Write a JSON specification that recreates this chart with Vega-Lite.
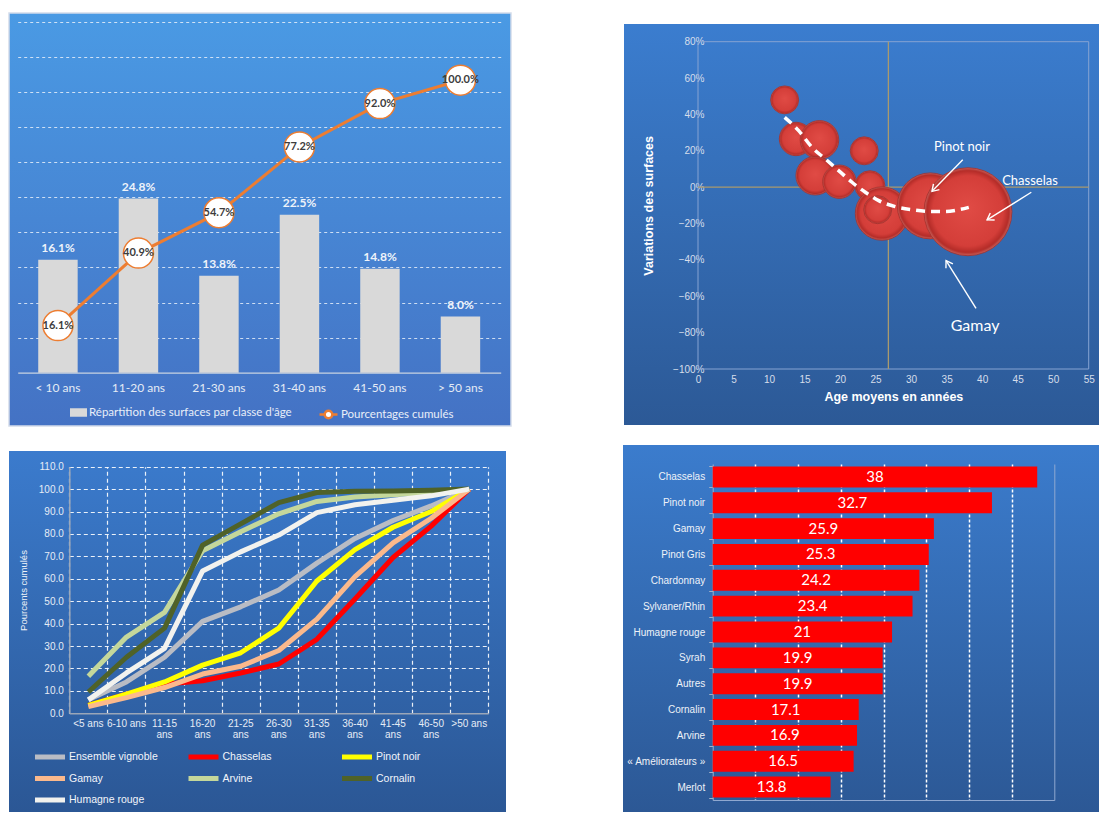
{
  "$schema": "https://vega.github.io/schema/vega-lite/v6.json",
  "background": "white",
  "padding": {"left": 8, "top": 12, "right": 0, "bottom": 0},
  "spacing": 13,
  "config": {"view": {"stroke": null}, "font": "Liberation Sans"},
  "resolve": {"scale": {"color": "independent", "stroke": "independent", "size": "independent"}, "legend": {"color": "independent", "stroke": "independent"}},
  "datasets": {
    "classes": [
      {"classe": "< 10 ans", "part": 0.161, "cumul": 0.161},
      {"classe": "11-20 ans", "part": 0.248, "cumul": 0.409},
      {"classe": "21-30 ans", "part": 0.138, "cumul": 0.547},
      {"classe": "31-40 ans", "part": 0.225, "cumul": 0.772},
      {"classe": "41-50 ans", "part": 0.148, "cumul": 0.92},
      {"classe": "> 50 ans", "part": 0.08, "cumul": 1.0}
    ],
    "bulles": [
      {"age": 12.2, "variation": 0.48, "surface": 196},
      {"age": 13.8, "variation": 0.265, "surface": 279},
      {"age": 17.1, "variation": 0.26, "surface": 372},
      {"age": 23.4, "variation": 0.2, "surface": 196},
      {"age": 16.5, "variation": 0.063, "surface": 372},
      {"age": 19.9, "variation": 0.03, "surface": 279},
      {"age": 24.2, "variation": 0.008, "surface": 225},
      {"age": 25.9, "variation": -0.145, "surface": 713},
      {"age": 25.3, "variation": -0.124, "surface": 196},
      {"age": 32.7, "variation": -0.103, "surface": 1089},
      {"age": 38.0, "variation": -0.135, "surface": 1936}
    ],
    "tendance": [
      {"age": 12.2, "variation": 0.384},
      {"age": 14.17, "variation": 0.311},
      {"age": 16.05, "variation": 0.219},
      {"age": 17.93, "variation": 0.155},
      {"age": 19.8, "variation": 0.091},
      {"age": 21.68, "variation": 0.027},
      {"age": 23.56, "variation": -0.028},
      {"age": 25.44, "variation": -0.074},
      {"age": 27.78, "variation": -0.107},
      {"age": 30.13, "variation": -0.124},
      {"age": 32.48, "variation": -0.133},
      {"age": 34.83, "variation": -0.134},
      {"age": 36.71, "variation": -0.124},
      {"age": 38.12, "variation": -0.111}
    ],
    "fleches": [
      {"cible": "Pinot noir", "age": 37.27, "variation": 0.151, "age_fin": 32.94, "variation_fin": -0.023},
      {"cible": "Chasselas", "age": 46.92, "variation": -0.028, "age_fin": 40.69, "variation_fin": -0.18},
      {"cible": "Gamay", "age": 39.14, "variation": -0.666, "age_fin": 34.92, "variation_fin": -0.404}
    ],
    "cadre": [
      {"age": 0, "age_fin": 55, "variation": -1, "variation_fin": 0.8}
    ],
    "courbes": [
      {"classe": "<5 ans", "serie": "Ensemble vignoble", "cumul": 6},
      {"classe": "6-10 ans", "serie": "Ensemble vignoble", "cumul": 14},
      {"classe": "11-15 ans", "serie": "Ensemble vignoble", "cumul": 25},
      {"classe": "16-20 ans", "serie": "Ensemble vignoble", "cumul": 41},
      {"classe": "21-25 ans", "serie": "Ensemble vignoble", "cumul": 47.5},
      {"classe": "26-30 ans", "serie": "Ensemble vignoble", "cumul": 55},
      {"classe": "31-35 ans", "serie": "Ensemble vignoble", "cumul": 67},
      {"classe": "36-40 ans", "serie": "Ensemble vignoble", "cumul": 78},
      {"classe": "41-45 ans", "serie": "Ensemble vignoble", "cumul": 86},
      {"classe": "46-50 ans", "serie": "Ensemble vignoble", "cumul": 92.5},
      {"classe": ">50 ans", "serie": "Ensemble vignoble", "cumul": 100},
      {"classe": "<5 ans", "serie": "Chasselas", "cumul": 3.5},
      {"classe": "6-10 ans", "serie": "Chasselas", "cumul": 8.5},
      {"classe": "11-15 ans", "serie": "Chasselas", "cumul": 13},
      {"classe": "16-20 ans", "serie": "Chasselas", "cumul": 14.5},
      {"classe": "21-25 ans", "serie": "Chasselas", "cumul": 18},
      {"classe": "26-30 ans", "serie": "Chasselas", "cumul": 22},
      {"classe": "31-35 ans", "serie": "Chasselas", "cumul": 33},
      {"classe": "36-40 ans", "serie": "Chasselas", "cumul": 51},
      {"classe": "41-45 ans", "serie": "Chasselas", "cumul": 69.5},
      {"classe": "46-50 ans", "serie": "Chasselas", "cumul": 83.5},
      {"classe": ">50 ans", "serie": "Chasselas", "cumul": 100},
      {"classe": "<5 ans", "serie": "Pinot noir", "cumul": 3.5},
      {"classe": "6-10 ans", "serie": "Pinot noir", "cumul": 8.5},
      {"classe": "11-15 ans", "serie": "Pinot noir", "cumul": 14},
      {"classe": "16-20 ans", "serie": "Pinot noir", "cumul": 21.5},
      {"classe": "21-25 ans", "serie": "Pinot noir", "cumul": 27},
      {"classe": "26-30 ans", "serie": "Pinot noir", "cumul": 38},
      {"classe": "31-35 ans", "serie": "Pinot noir", "cumul": 59},
      {"classe": "36-40 ans", "serie": "Pinot noir", "cumul": 73},
      {"classe": "41-45 ans", "serie": "Pinot noir", "cumul": 83},
      {"classe": "46-50 ans", "serie": "Pinot noir", "cumul": 90},
      {"classe": ">50 ans", "serie": "Pinot noir", "cumul": 100},
      {"classe": "<5 ans", "serie": "Gamay", "cumul": 3},
      {"classe": "6-10 ans", "serie": "Gamay", "cumul": 7},
      {"classe": "11-15 ans", "serie": "Gamay", "cumul": 11.5},
      {"classe": "16-20 ans", "serie": "Gamay", "cumul": 17.5},
      {"classe": "21-25 ans", "serie": "Gamay", "cumul": 21},
      {"classe": "26-30 ans", "serie": "Gamay", "cumul": 28},
      {"classe": "31-35 ans", "serie": "Gamay", "cumul": 42},
      {"classe": "36-40 ans", "serie": "Gamay", "cumul": 61},
      {"classe": "41-45 ans", "serie": "Gamay", "cumul": 76},
      {"classe": "46-50 ans", "serie": "Gamay", "cumul": 87},
      {"classe": ">50 ans", "serie": "Gamay", "cumul": 100},
      {"classe": "<5 ans", "serie": "Arvine", "cumul": 16.5},
      {"classe": "6-10 ans", "serie": "Arvine", "cumul": 34},
      {"classe": "11-15 ans", "serie": "Arvine", "cumul": 45},
      {"classe": "16-20 ans", "serie": "Arvine", "cumul": 72.5},
      {"classe": "21-25 ans", "serie": "Arvine", "cumul": 81},
      {"classe": "26-30 ans", "serie": "Arvine", "cumul": 89},
      {"classe": "31-35 ans", "serie": "Arvine", "cumul": 94.5},
      {"classe": "36-40 ans", "serie": "Arvine", "cumul": 96.5},
      {"classe": "41-45 ans", "serie": "Arvine", "cumul": 97.5},
      {"classe": "46-50 ans", "serie": "Arvine", "cumul": 98.5},
      {"classe": ">50 ans", "serie": "Arvine", "cumul": 100},
      {"classe": "<5 ans", "serie": "Cornalin", "cumul": 9.5},
      {"classe": "6-10 ans", "serie": "Cornalin", "cumul": 25},
      {"classe": "11-15 ans", "serie": "Cornalin", "cumul": 38},
      {"classe": "16-20 ans", "serie": "Cornalin", "cumul": 75},
      {"classe": "21-25 ans", "serie": "Cornalin", "cumul": 84.5},
      {"classe": "26-30 ans", "serie": "Cornalin", "cumul": 94},
      {"classe": "31-35 ans", "serie": "Cornalin", "cumul": 98.5},
      {"classe": "36-40 ans", "serie": "Cornalin", "cumul": 99},
      {"classe": "41-45 ans", "serie": "Cornalin", "cumul": 99.2},
      {"classe": "46-50 ans", "serie": "Cornalin", "cumul": 99.5},
      {"classe": ">50 ans", "serie": "Cornalin", "cumul": 100},
      {"classe": "<5 ans", "serie": "Humagne rouge", "cumul": 6},
      {"classe": "6-10 ans", "serie": "Humagne rouge", "cumul": 18},
      {"classe": "11-15 ans", "serie": "Humagne rouge", "cumul": 29},
      {"classe": "16-20 ans", "serie": "Humagne rouge", "cumul": 63.5},
      {"classe": "21-25 ans", "serie": "Humagne rouge", "cumul": 72},
      {"classe": "26-30 ans", "serie": "Humagne rouge", "cumul": 79.5},
      {"classe": "31-35 ans", "serie": "Humagne rouge", "cumul": 89.5},
      {"classe": "36-40 ans", "serie": "Humagne rouge", "cumul": 93},
      {"classe": "41-45 ans", "serie": "Humagne rouge", "cumul": 95},
      {"classe": "46-50 ans", "serie": "Humagne rouge", "cumul": 97},
      {"classe": ">50 ans", "serie": "Humagne rouge", "cumul": 100}
    ],
    "ages_moyens": [
      {"cepage": "Chasselas", "age": 38},
      {"cepage": "Pinot noir", "age": 32.7},
      {"cepage": "Gamay", "age": 25.9},
      {"cepage": "Pinot Gris", "age": 25.3},
      {"cepage": "Chardonnay", "age": 24.2},
      {"cepage": "Sylvaner/Rhin", "age": 23.4},
      {"cepage": "Humagne rouge", "age": 21},
      {"cepage": "Syrah", "age": 19.9},
      {"cepage": "Autres", "age": 19.9},
      {"cepage": "Cornalin", "age": 17.1},
      {"cepage": "Arvine", "age": 16.9},
      {"cepage": "« Améliorateurs »", "age": 16.5},
      {"cepage": "Merlot", "age": 13.8}
    ]
  },
  "vconcat": [
    {
      "spacing": 112,
      "resolve": {"scale": {"color": "independent", "stroke": "independent", "size": "independent"}},
      "hconcat": [
        {
          "width": 502,
          "height": 413,
          "view": {
            "fill": {"gradient": "linear", "x1": 0, "y1": 0, "x2": 0, "y2": 1,
              "stops": [{"offset": 0, "color": "#4a9ae4"}, {"offset": 1, "color": "#4472c4"}]},
            "stroke": "#d3dcea",
            "strokeWidth": 1.5
          },
          "data": {"name": "classes"},
          "layer": [
            {
              "layer": [
                {
                  "mark": {"type": "bar", "color": "#d9d9d9"},
                  "encoding": {
                    "x": {
                      "field": "classe", "type": "nominal", "sort": null,
                      "scale": {"range": [8.7, 491.7], "paddingInner": 0.51, "paddingOuter": 0.255},
                      "axis": {"title": null, "orient": "bottom", "offset": -53.3, "labelAngle": 0, "ticks": false,
                        "domainColor": "#c9d3e2", "domainWidth": 1.2, "labelPadding": 10,
                        "labelFont": "Lato", "labelFontSize": 12, "labelColor": "#e4ebf5"}
                    },
                    "y": {
                      "field": "part", "type": "quantitative",
                      "scale": {"domain": [0, 0.5], "range": [359.7, 8.7], "nice": false},
                      "axis": {"title": null, "orient": "left", "values": [0.05, 0.1, 0.15, 0.2, 0.25, 0.3, 0.35, 0.4, 0.45, 0.5],
                        "labels": false, "ticks": false, "domain": false, "grid": true,
                        "gridDash": [3, 3], "gridColor": "#e6eef9", "gridWidth": 1, "gridOpacity": 0.85}
                    },
                    "fill": {
                      "datum": "Répartition des surfaces par classe d'âge",
                      "scale": {"range": ["#d9d9d9"]},
                      "legend": {"title": null, "orient": "none", "legendX": 61, "legendY": 391, "padding": 0,
                        "symbolType": "M-1,-0.5L1,-0.5L1,0.5L-1,0.5Z", "symbolSize": 289, "symbolStrokeWidth": 0,
                        "labelFont": "Lato", "labelFontSize": 11.5, "labelColor": "#e8eef8", "labelOffset": 2, "labelLimit": 400}
                    }
                  }
                },
                {
                  "mark": {"type": "text", "baseline": "bottom", "dy": -5, "font": "Lato", "fontSize": 12, "fontWeight": "bold", "color": "#eef3fa"},
                  "encoding": {
                    "x": {"field": "classe", "type": "nominal", "sort": null,
                      "scale": {"range": [8.7, 491.7], "paddingInner": 0.51, "paddingOuter": 0.255}},
                    "y": {"field": "part", "type": "quantitative",
                      "scale": {"domain": [0, 0.5], "range": [359.7, 8.7], "nice": false}},
                    "text": {"field": "part", "type": "quantitative", "format": ".1%"}
                  }
                }
              ]
            },
            {
              "layer": [
                {
                  "mark": {"type": "line", "strokeWidth": 3},
                  "encoding": {
                    "x": {"field": "classe", "type": "nominal", "sort": null,
                      "scale": {"range": [8.7, 491.7], "paddingInner": 0.51, "paddingOuter": 0.255}},
                    "y": {"field": "cumul", "type": "quantitative",
                      "scale": {"domain": [0, 1.2], "range": [359.7, 8.7], "nice": false}, "axis": null},
                    "stroke": {
                      "datum": "Pourcentages cumulés",
                      "scale": {"range": ["#ed7d31"]},
                      "legend": {"title": null, "orient": "none", "legendX": 309, "legendY": 391, "padding": 0,
                        "symbolType": "M-1,0L-0.42,0M0.42,0L1,0M-0.42,0A0.42,0.42,0,1,1,0.42,0A0.42,0.42,0,1,1,-0.42,0Z",
                        "symbolSize": 324, "symbolStrokeWidth": 2.5, "symbolFillColor": "#ffffff",
                        "labelFont": "Lato", "labelFontSize": 11.5, "labelColor": "#e8eef8", "labelOffset": 2, "labelLimit": 400,
                        "encode": {"symbols": {"update": {"fill": {"value": "#ffffff"}}}}}
                    }
                  }
                },
                {
                  "mark": {"type": "point", "shape": "circle", "size": 900, "filled": true, "fill": "#ffffff",
                    "stroke": "#ed7d31", "strokeWidth": 1.5, "opacity": 1},
                  "encoding": {
                    "x": {"field": "classe", "type": "nominal", "sort": null,
                      "scale": {"range": [8.7, 491.7], "paddingInner": 0.51, "paddingOuter": 0.255}},
                    "y": {"field": "cumul", "type": "quantitative",
                      "scale": {"domain": [0, 1.2], "range": [359.7, 8.7], "nice": false}}
                  }
                },
                {
                  "mark": {"type": "text", "font": "Lato", "fontSize": 11, "fontWeight": "bold", "color": "#3c3c3c"},
                  "encoding": {
                    "x": {"field": "classe", "type": "nominal", "sort": null,
                      "scale": {"range": [8.7, 491.7], "paddingInner": 0.51, "paddingOuter": 0.255}},
                    "y": {"field": "cumul", "type": "quantitative",
                      "scale": {"domain": [0, 1.2], "range": [359.7, 8.7], "nice": false}},
                    "text": {"field": "cumul", "type": "quantitative", "format": ".1%"}
                  }
                }
              ]
            }
          ],
          "resolve": {"scale": {"y": "independent"}}
        },
        {
          "spacing": 10,
          "vconcat": [
            {"width": 477, "height": 1, "data": {"values": []}, "mark": "point", "encoding": {}},
            {
              "width": 477,
              "height": 401,
              "view": {
                "fill": {"gradient": "linear", "x1": 0, "y1": 0, "x2": 0, "y2": 1,
                  "stops": [{"offset": 0, "color": "#3b7dcf"}, {"offset": 1, "color": "#2c5996"}]},
                "stroke": null
              },
              "encoding": {
                "x": {"field": "age", "type": "quantitative",
                  "scale": {"domain": [0, 55], "range": [74, 464.7], "nice": false, "zero": false},
                  "axis": {"title": "Age moyens en années", "orient": "bottom", "offset": -56,
                    "values": [0, 5, 10, 15, 20, 25, 30, 35, 40, 45, 50, 55],
                    "domain": false, "ticks": false, "grid": false, "labelFlush": false,
                    "labelFontSize": 10, "labelColor": "#d6deeb", "labelPadding": 5,
                    "titleFontSize": 12.5, "titleFontWeight": "bold", "titleColor": "#ffffff", "titlePadding": 6}},
                "y": {"field": "variation", "type": "quantitative",
                  "scale": {"domain": [-1, 0.8], "range": [345, 17.7], "nice": false, "zero": false},
                  "axis": {"title": "Variations des surfaces", "orient": "left", "offset": -74,
                    "values": [-1, -0.8, -0.6, -0.4, -0.2, 0, 0.2, 0.4, 0.6, 0.8], "format": ".0%",
                    "domain": false, "ticks": false, "grid": false, "labelFlush": false,
                    "labelFontSize": 10, "labelColor": "#d6deeb", "labelPadding": -6,
                    "titleFontSize": 12.5, "titleFontWeight": "bold", "titleColor": "#ffffff",
                    "titleX": -50, "titleY": 181.35, "titleAngle": -90, "titleAlign": "center", "titleBaseline": "middle"}}
              },
              "layer": [
                {
                  "data": {"name": "cadre"},
                  "mark": {"type": "rect", "fillOpacity": 0, "stroke": "#86a3d2", "strokeWidth": 1},
                  "encoding": {
                    "x2": {"field": "age_fin"},
                    "y2": {"field": "variation_fin"}
                  }
                },
                {
                  "data": {"values": [{"age": 0, "age_fin": 55, "variation": 0}]},
                  "mark": {"type": "rule", "color": "#a99a6e", "strokeWidth": 1.3},
                  "encoding": {"x2": {"field": "age_fin"}}
                },
                {
                  "data": {"values": [{"age": 26.8, "variation": -1, "variation_fin": 0.8}]},
                  "mark": {"type": "rule", "color": "#a99a6e", "strokeWidth": 1.3},
                  "encoding": {"y2": {"field": "variation_fin"}}
                },
                {
                  "data": {"name": "bulles"},
                  "mark": {"type": "point", "shape": "circle", "filled": true, "opacity": 1,
                    "fill": {"gradient": "radial", "x1": 0.5, "y1": 0.45, "x2": 0.5, "y2": 0.5, "r1": 0, "r2": 0.5,
                      "stops": [{"offset": 0, "color": "#e04b45"}, {"offset": 0.8, "color": "#d43e39"},
                        {"offset": 0.93, "color": "#b42c28"}, {"offset": 1, "color": "#c8625c"}]},
                    "stroke": "#a3302c", "strokeWidth": 0.8},
                  "encoding": {
                    "size": {"field": "surface", "type": "quantitative",
                      "scale": {"type": "linear", "domain": [0, 2000], "range": [0, 8000], "zero": true}, "legend": null}
                  }
                },
                {
                  "data": {"name": "tendance"},
                  "mark": {"type": "line", "color": "#ffffff", "strokeWidth": 3.5, "strokeDash": [9, 6], "interpolate": "monotone"},
                  "encoding": {}
                },
                {
                  "data": {"name": "fleches"},
                  "mark": {"type": "rule", "color": "#ffffff", "strokeWidth": 1.4},
                  "encoding": {
                    "x2": {"field": "age_fin"},
                    "y2": {"field": "variation_fin"}
                  }
                },
                {
                  "data": {"values": [{"age": 32.94, "variation": -0.023}]},
                  "mark": {"type": "point", "shape": "M-0.55,0.85L0,0L0.55,0.85", "filled": false, "stroke": "#ffffff",
                    "strokeWidth": 1.4, "size": 225, "angle": 224, "opacity": 1},
                  "encoding": {}
                },
                {
                  "data": {"values": [{"age": 40.69, "variation": -0.18}]},
                  "mark": {"type": "point", "shape": "M-0.55,0.85L0,0L0.55,0.85", "filled": false, "stroke": "#ffffff",
                    "strokeWidth": 1.4, "size": 225, "angle": 238, "opacity": 1},
                  "encoding": {}
                },
                {
                  "data": {"values": [{"age": 34.92, "variation": -0.404}]},
                  "mark": {"type": "point", "shape": "M-0.55,0.85L0,0L0.55,0.85", "filled": false, "stroke": "#ffffff",
                    "strokeWidth": 1.4, "size": 225, "angle": 328, "opacity": 1},
                  "encoding": {}
                },
                {
                  "data": {"values": [
                    {"cepage": "Pinot noir", "age": 37.17, "variation": 0.223},
                    {"cepage": "Chasselas", "age": 46.74, "variation": 0.036}
                  ]},
                  "mark": {"type": "text", "font": "Lato", "fontSize": 13, "color": "#ffffff"},
                  "encoding": {"text": {"field": "cepage"}}
                },
                {
                  "data": {"values": [{"cepage": "Gamay", "age": 39.0, "variation": -0.762}]},
                  "mark": {"type": "text", "font": "Lato", "fontSize": 16, "color": "#ffffff"},
                  "encoding": {"text": {"field": "cepage"}}
                }
              ]
            }
          ]
        }
      ]
    },
    {
      "spacing": 117,
      "resolve": {"scale": {"color": "independent", "stroke": "independent", "size": "independent"}},
      "hconcat": [
        {
          "spacing": 5,
          "vconcat": [
            {"width": 497, "height": 1, "data": {"values": []}, "mark": "point", "encoding": {}},
            {
              "width": 497,
              "height": 361,
              "view": {
                "fill": {"gradient": "linear", "x1": 0, "y1": 0, "x2": 0, "y2": 1,
                  "stops": [{"offset": 0, "color": "#3b7bcd"}, {"offset": 1, "color": "#2b5795"}]},
                "stroke": null
              },
              "data": {"name": "courbes"},
              "encoding": {
                "y": {
                  "field": "cumul", "type": "quantitative",
                  "scale": {"domain": [0, 110], "range": [262.3, 15.7], "nice": false},
                  "axis": {"title": "Pourcents cumulés", "orient": "left", "offset": -60.3,
                    "values": [0, 10, 20, 30, 40, 50, 60, 70, 80, 90, 100, 110], "format": ".1f",
                    "grid": true, "gridDash": [4, 3], "gridColor": "#ffffff", "gridWidth": 1.2,
                    "gridOpacity": {"condition": {"test": "datum.value === 0", "value": 0}, "value": 0.9},
                    "ticks": false, "domain": true, "domainColor": "#9aa6b8", "domainWidth": 1.5,
                    "labelFontSize": 10, "labelColor": "#e6ecf6", "labelPadding": 6,
                    "titleFontSize": 9.5, "titleFontWeight": "normal", "titleColor": "#eef2f8", "titlePadding": 10}
                }
              },
              "layer": [
                {
                  "mark": {"type": "point", "opacity": 0},
                  "encoding": {
                    "x": {
                      "field": "classe", "type": "nominal",
                      "sort": ["<5 ans", "6-10 ans", "11-15 ans", "16-20 ans", "21-25 ans", "26-30 ans", "31-35 ans", "36-40 ans", "41-45 ans", "46-50 ans", ">50 ans"],
                      "scale": {"type": "band", "range": [60.3, 479.3], "paddingInner": 0, "paddingOuter": 0},
                      "axis": {"title": null, "orient": "bottom", "offset": -98.7, "grid": false,
                        "ticks": false, "domain": true, "domainColor": "#9aa6b8", "domainWidth": 1.5,
                        "labelAngle": 0, "labelFontSize": 10, "labelColor": "#e6ecf6", "labelPadding": 5, "labelLineHeight": 11,
                        "labelExpr": "length(datum.label) > 8 ? split(datum.label, ' ') : datum.label"}
                    }
                  }
                },
                {
                  "mark": {"type": "line", "strokeWidth": 5, "strokeJoin": "round"},
                  "encoding": {
                    "x": {
                      "field": "classe", "type": "nominal",
                      "sort": ["<5 ans", "6-10 ans", "11-15 ans", "16-20 ans", "21-25 ans", "26-30 ans", "31-35 ans", "36-40 ans", "41-45 ans", "46-50 ans", ">50 ans"],
                      "scale": {"type": "band", "range": [60.3, 479.3], "paddingInner": 0, "paddingOuter": 0},
                      "axis": {"title": null, "orient": "top", "tickBand": "extent", "grid": true,
                        "gridDash": [4, 3], "gridColor": "#ffffff", "gridWidth": 1.2, "gridOpacity": 0.9,
                        "labels": false, "ticks": false, "domain": false}
                    },
                    "color": {
                      "field": "serie", "type": "nominal",
                      "scale": {
                        "domain": ["Ensemble vignoble", "Chasselas", "Pinot noir", "Gamay", "Arvine", "Cornalin", "Humagne rouge"],
                        "range": ["#b9bcc4", "#ff0000", "#ffff00", "#fbb98c", "#c4d79b", "#4f6228", "#f2f2ee"]
                      },
                      "legend": {"title": null, "orient": "none", "direction": "horizontal", "legendX": 31, "legendY": 302, "padding": 0,
                        "columns": 3, "gridAlign": "all", "columnPadding": 20.5, "rowPadding": 1.5,
                        "symbolType": "M-2,0L2,0", "symbolStrokeWidth": 5, "symbolSize": 225,
                        "labelFontSize": 10.5, "labelColor": "#f2f5fa", "labelOffset": 9}
                    }
                  }
                }
              ],
              "resolve": {"axis": {"x": "independent"}}
            }
          ]
        },
        {
          "width": 477,
          "height": 367,
          "view": {
            "fill": {"gradient": "linear", "x1": 0, "y1": 0, "x2": 0, "y2": 1,
              "stops": [{"offset": 0, "color": "#3b7ccd"}, {"offset": 1, "color": "#2c5895"}]},
            "stroke": null
          },
          "data": {"name": "ages_moyens"},
          "layer": [
            {
              "mark": {"type": "bar", "color": "#ff0000"},
              "encoding": {
                "y": {"field": "cepage", "type": "nominal", "sort": null,
                  "scale": {"range": [19, 355], "paddingInner": 0.19, "paddingOuter": 0.095},
                  "axis": {"title": null, "orient": "left", "offset": -89.7, "tickBand": "extent", "tickSize": 4,
                    "tickColor": "#9fb0c8", "domainColor": "#9fb0c8", "grid": false,
                    "labelFontSize": 10, "labelColor": "#eef2f8", "labelPadding": 4}},
                "x": {"field": "age", "type": "quantitative",
                  "scale": {"domain": [0, 40], "range": [89.7, 431.3], "nice": false},
                  "axis": {"title": null, "orient": "bottom", "offset": -12,
                    "labels": false, "ticks": false, "grid": false, "domain": true, "domainColor": "#8fa8d0"}}
              }
            },
            {
              "mark": {"type": "text", "font": "Lato", "fontSize": 15, "color": "#ffffff", "align": "center", "baseline": "middle"},
              "encoding": {
                "y": {"field": "cepage", "type": "nominal", "sort": null,
                  "scale": {"range": [19, 355], "paddingInner": 0.19, "paddingOuter": 0.095},
                  "axis": {"title": null, "orient": "right", "offset": -45.7, "labels": false, "ticks": false,
                    "domain": true, "domainColor": "#8fa8d0", "grid": false}},
                "x": {"field": "age", "type": "quantitative",
                  "scale": {"domain": [0, 80], "range": [89.7, 431.3], "nice": false},
                  "axis": {"title": null, "orient": "top", "values": [10, 20, 30, 40, 50, 60, 70],
                    "labels": false, "ticks": false, "domain": false, "grid": true,
                    "gridDash": [3, 2], "gridColor": "#ffffff", "gridWidth": 1.5}},
                "text": {"field": "age", "type": "quantitative"}
              }
            }
          ],
          "resolve": {"scale": {"x": "independent"}, "axis": {"y": "independent"}}
        }
      ]
    }
  ]
}
